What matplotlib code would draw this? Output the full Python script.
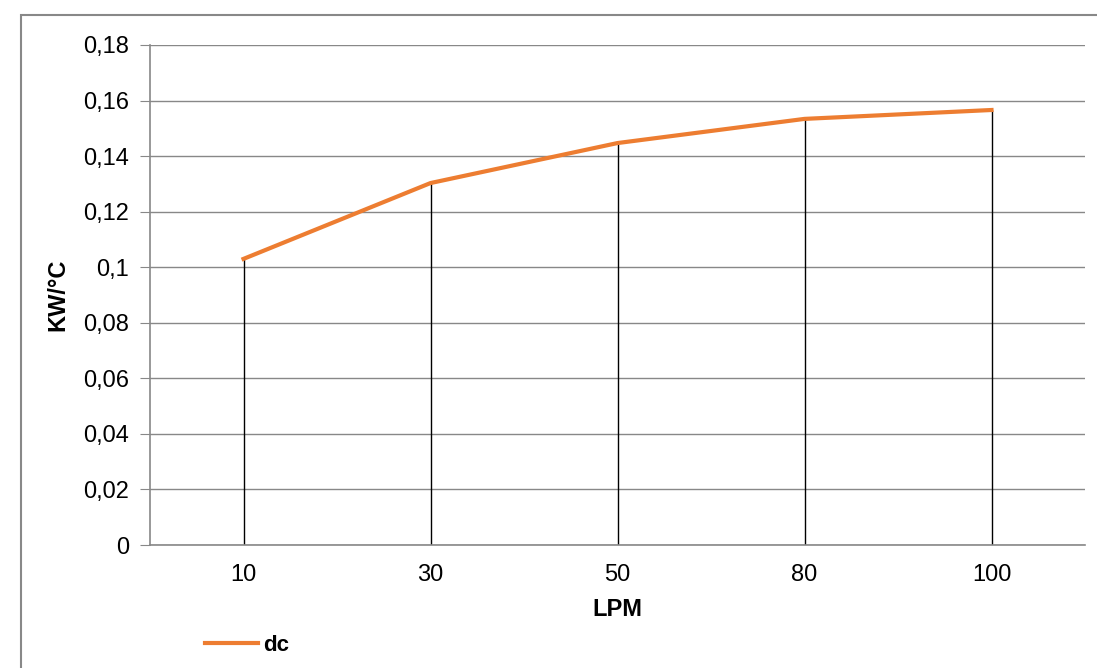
import numpy as np
import matplotlib.pyplot as plt
from matplotlib.patches import Rectangle
from matplotlib.ticker import FuncFormatter

# data
lpm = ["10", "30", "50", "80", "100"]
dc = [0.103, 0.1303, 0.1447, 0.1534, 0.1566]
y_ticks = [0, 0.02, 0.04, 0.06, 0.08, 0.1, 0.12, 0.14, 0.16, 0.18]

plt.rcParams['font.family'] = ['Liberation Sans', 'DejaVu Sans']

fig = plt.figure(figsize=(10.97, 6.68), dpi=100)
ax = fig.add_axes([150 / 1097, 1 - 545 / 668, 935 / 1097, 500 / 668])

# outer chart frame
fig.patches.append(Rectangle((21 / 1097, -0.1), 1.2, 1 - 15 / 668 + 0.1,
                             transform=fig.transFigure, fill=False,
                             edgecolor='#888888', linewidth=1.5))

x = np.arange(len(lpm))
ax.vlines(x, 0, dc, color='black', linewidth=1, zorder=2)
ax.plot(x, dc, color='#ED7D31', linewidth=3, label='dc', zorder=3)

ax.set_xlim(-0.5, len(lpm) - 0.5)
ax.set_ylim(0, 0.18)
ax.set_yticks(y_ticks)
ax.yaxis.set_major_formatter(FuncFormatter(lambda v, p: ('%g' % round(v, 2)).replace('.', ',')))
ax.set_xticks(x)
ax.set_xticklabels(lpm)
ax.grid(axis='y', color='#888888', linewidth=1)
ax.set_axisbelow(True)

for s in ['top', 'right']:
    ax.spines[s].set_visible(False)
for s in ['left', 'bottom']:
    ax.spines[s].set_color('#888888')
    ax.spines[s].set_linewidth(1.2)

ax.tick_params(axis='y', length=7, color='#888888', labelsize=17, pad=8)
ax.tick_params(axis='x', length=0, labelsize=17, pad=14)

ax.set_ylabel('KW/°C', fontsize=17, fontweight='bold', labelpad=10)
ax.set_xlabel('LPM', fontsize=17, fontweight='bold', labelpad=8)

fig.legend(loc='lower left', bbox_to_anchor=(185 / 1097, -0.012), frameon=False,
           prop={'size': 16, 'weight': 'bold'}, handlelength=2.4, handletextpad=0.2)

fig.savefig('out.png', dpi=100)
